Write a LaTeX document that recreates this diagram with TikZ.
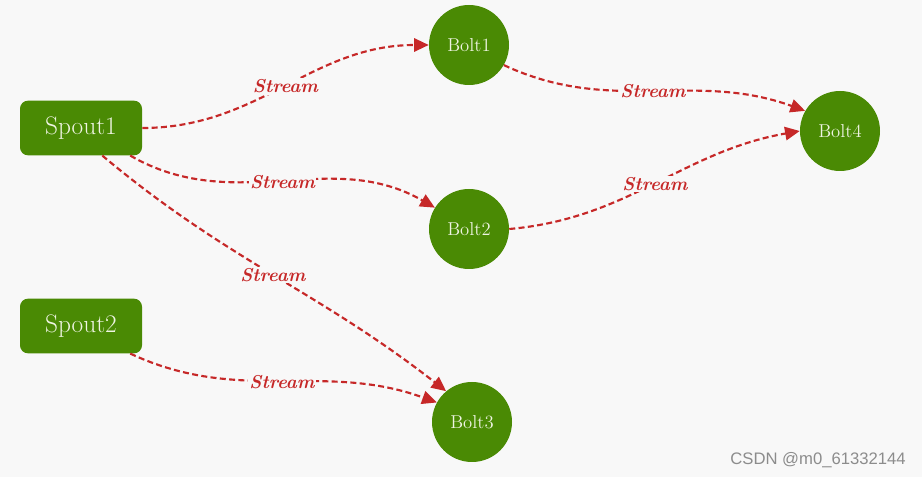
\documentclass[tikz,border=0pt]{standalone}
\usepackage{fontspec}
\newfontfamily\wmfont{Liberation Sans}
\usetikzlibrary{arrows.meta}
\definecolor{bgc}{HTML}{F8F8F8}
\definecolor{nodegreen}{HTML}{4A8A04}
\definecolor{txtc}{HTML}{EEF4E2}
\definecolor{edgered}{HTML}{C62828}
\tikzset{
  spoutbox/.style={draw=none, fill=nodegreen, rounded corners=6pt, minimum width=91.5pt, minimum height=41pt, text=txtc, font=\fontsize{19}{21}\selectfont, inner sep=0pt},
  boltnode/.style={circle, draw=none, fill=nodegreen, minimum size=60pt, text=txtc, font=\fontsize{14}{16}\selectfont, inner sep=0pt},
  streamedge/.style={draw=edgered, line width=1.6pt, dash pattern=on 4.5pt off 2.5pt, -{Triangle[length=11pt,width=10pt]}},
  streamlabel/.style={fill=bgc, text=edgered, font=\fontsize{14}{16}\selectfont\itshape\bfseries, inner sep=1pt}
}
\begin{document}
\begin{tikzpicture}[x=0.75pt,y=-0.75pt]
\fill[bgc] (0,0) rectangle (922,477);
\useasboundingbox (0,0) rectangle (922,477);
\node[spoutbox] (s1) at (81,128) {Spout1};
\node[spoutbox] (s2) at (81,326) {Spout2};
\node[boltnode] (b1) at (469,45) {Bolt1};
\node[boltnode] (b2) at (469,229) {Bolt2};
\node[boltnode] (b3) at (472,422) {Bolt3};
\node[boltnode] (b4) at (840,131) {Bolt4};
\coordinate (s1a) at ([xshift=-9pt]s1.south east);
\coordinate (s1b) at ([xshift=16pt]s1.south);
\coordinate (s2a) at ([xshift=-9pt]s2.south east);
\draw[streamedge] (s1.east) to[out=0,in=180] node[streamlabel,pos=0.5] {Stream} (b1.west);
\draw[streamedge] (s1a) to[out=-30,in=150] node[streamlabel,pos=0.5] {Stream} (b2.148);
\draw[streamedge] (s1b) to[out=-40,in=142] node[streamlabel,pos=0.5] {Stream} (b3.130);
\draw[streamedge] (s2a) to[out=-25,in=160] node[streamlabel,pos=0.5] {Stream} (b3.151);
\draw[streamedge] (b1.-30) to[out=-25,in=160] node[streamlabel,pos=0.5] {Stream} (b4.150);
\draw[streamedge] (b2.east) to[out=5,in=190] node[streamlabel,pos=0.5] {Stream} (b4.west);
\node[text=black!45, font=\wmfont\fontsize{12.5}{14}\selectfont, anchor=east, inner sep=0pt] (wm) at (906,460) {CSDN @m0\_61332144};
\end{tikzpicture}
\end{document}
